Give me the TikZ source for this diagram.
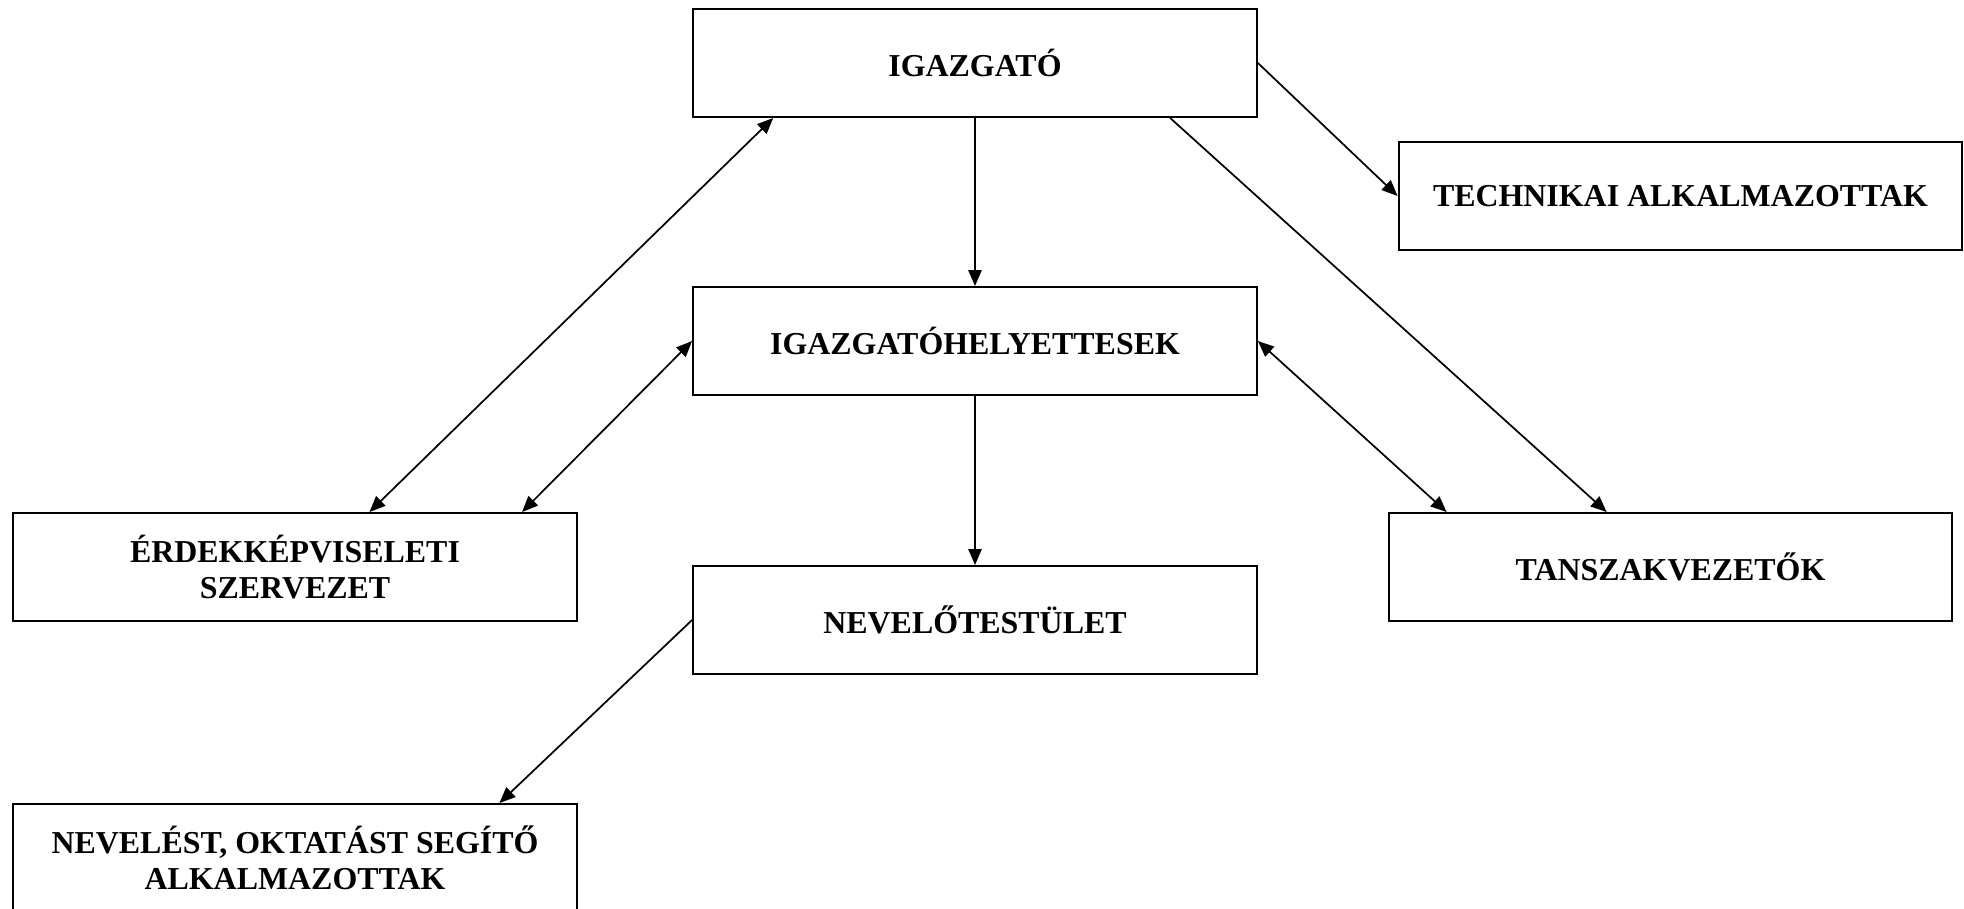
\documentclass[tikz,border=0pt]{standalone}
\usepackage{fontspec}
\setmainfont{Liberation Serif}
\usetikzlibrary{arrows.meta}

\begin{document}
\begin{tikzpicture}[x=0.376pt,y=-0.376pt,>={Triangle[length=6pt,width=5pt]},
    line width=0.65pt,
    unit/.style={draw,line width=0.75pt,minimum width=212pt,minimum height=40.6pt,
      align=center,inner sep=0pt,font=\fontsize{12}{13.5}\selectfont\bfseries}]
  \useasboundingbox (0,0) rectangle (1964,908);
  % boxes
  \node[unit] (igazgato) at (975,63) {IGAZGATÓ};
  \node[unit] (technikai) at (1680.5,196) {TECHNIKAI ALKALMAZOTTAK};
  \node[unit] (helyettes) at (975,341) {IGAZGATÓHELYETTESEK};
  \node[unit] (erdek) at (295,567) {ÉRDEKKÉPVISELETI\\SZERVEZET};
  \node[unit] (tanszak) at (1670.5,567) {TANSZAKVEZETŐK};
  \node[unit] (nevelo) at (975,620) {NEVELŐTESTÜLET};
  \node[unit] (segito) at (295,858) {NEVELÉST, OKTATÁST SEGÍTŐ\\ALKALMAZOTTAK};
  % connectors
  \draw[->] (igazgato) -- (helyettes);
  \draw[->] (helyettes) -- (nevelo);
  \draw[->] (igazgato.east) -- (technikai.west);
  \draw[->] ([xshift=-33pt]igazgato.south east) -- ([xshift=-24pt]tanszak.north);
  \draw[<->] ([xshift=30.5pt]igazgato.south west) -- ([xshift=28pt]erdek.north);
  \draw[<->] (helyettes.west) -- ([xshift=-21pt]erdek.north east);
  \draw[<->] (helyettes.east) -- ([xshift=22.2pt]tanszak.north west);
  \draw[->] (nevelo.west) -- ([xshift=-29.5pt]segito.north east);
\end{tikzpicture}
\end{document}
